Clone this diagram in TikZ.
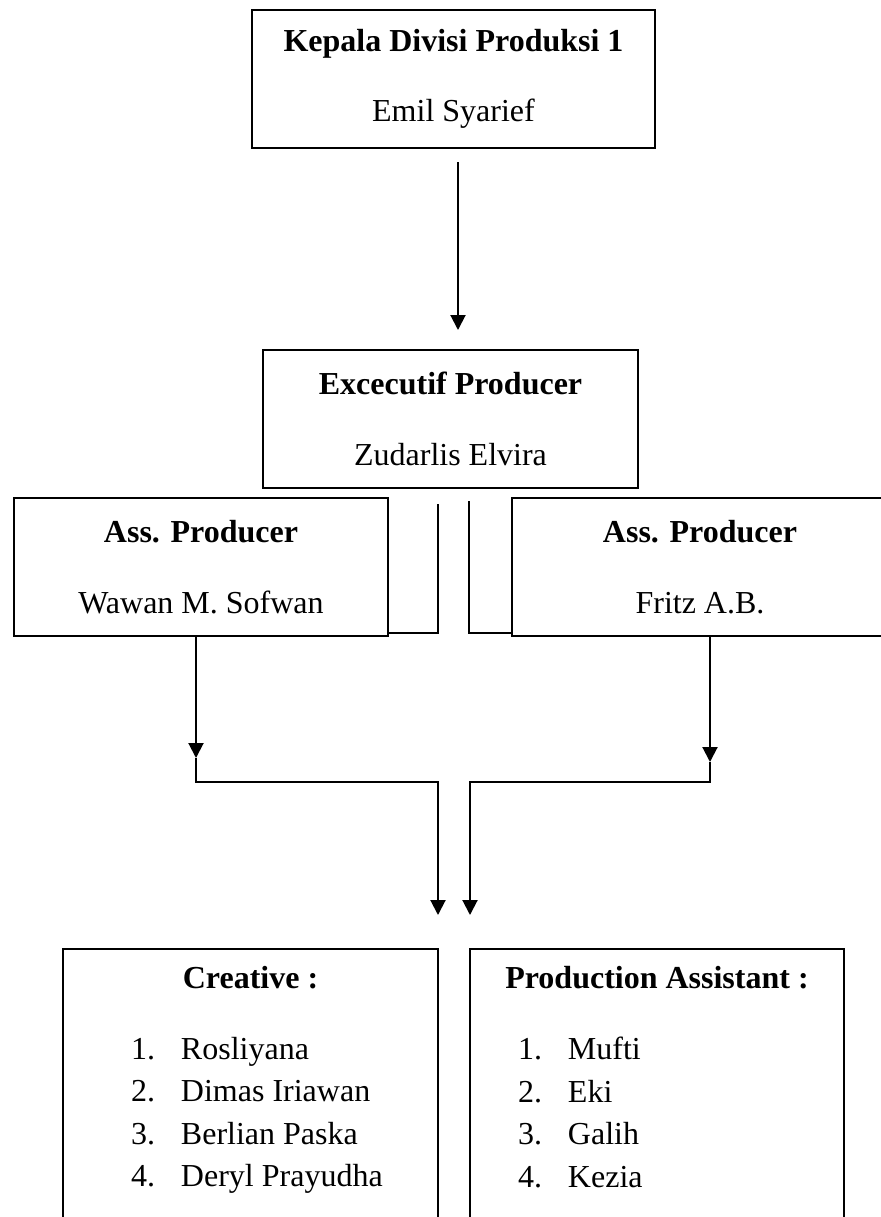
\documentclass[tikz,border=0pt]{standalone}
\usepackage{fontspec}
\setmainfont{Liberation Serif}
\usetikzlibrary{arrows.meta}
\newcommand{\jabatan}[2]{\textbf{#1}\\[14pt]#2}
\newcommand{\butir}[2]{\makebox[25pt][l]{#1}#2}

\begin{document}
\begin{tikzpicture}[x=0.5pt, y=-0.5pt, >={Triangle[width=7.5pt,length=7.5pt]}, line width=1pt,
    every node/.style={font=\fontsize{16}{21.25}\selectfont},
    kotak/.style={draw, line width=0.9pt, align=center, minimum height=69pt, inner sep=0pt}]
    \useasboundingbox (0,0) rectangle (881,1217);
    \node [kotak, minimum width=201.5pt] (KD) at (453.5, 79) {\jabatan{Kepala Divisi Produksi 1}{Emil Syarief}};
    \node [kotak, minimum width=187.5pt] (EP) at (450.5, 419) {\jabatan{Excecutif Producer}{Zudarlis Elvira}};
    \node [kotak, minimum width=187pt] (AL) at (201, 567) {\jabatan{Ass. Producer}{Wawan M. Sofwan}};
    \node [kotak, minimum width=188pt] (AR) at (700, 567) {\jabatan{Ass. Producer}{Fritz A.B.}};
    \node [kotak, minimum width=187.5pt, minimum height=155.5pt] (CR) at (250.5, 1104.5) {};
    \node [kotak, minimum width=187pt, minimum height=155.5pt] (PA) at (657, 1104.5) {};
    \node [anchor=base] (CRjudul) at (250.5, 988) {\textbf{Creative :}};
    \node [anchor=base] (PAjudul) at (657, 988) {\textbf{Production Assistant :}};
    \node [anchor=north west, align=left, inner sep=0pt] (CRisi) at (130, 1036)
        {\butir{1.}{Rosliyana}\\\butir{2.}{Dimas Iriawan}\\\butir{3.}{Berlian Paska}\\\butir{4.}{Deryl Prayudha}};
    \node [anchor=north west, align=left, inner sep=0pt] (PAisi) at (517, 1036)
        {\butir{1.}{Mufti}\\\butir{2.}{Eki}\\\butir{3.}{Galih}\\\butir{4.}{Kezia}};
    % free ends of the connectors
    \coordinate (a1) at (458, 162);
    \coordinate (a2) at (458, 330);
    \coordinate (kl) at (438, 504);
    \coordinate (kr) at (469, 501);
    \coordinate (pl) at (196, 758);
    \coordinate (jl) at (438, 782);
    \coordinate (tl) at (438, 915);
    \coordinate (pr) at (710, 762);
    \coordinate (jr) at (470, 782);
    \coordinate (tr) at (470, 915);
    \draw [->] (a1) -- (a2);
    \draw (kl) |- ([yshift=2pt]AL.south east);
    \draw (kr) |- ([yshift=2pt]AR.south west);
    \draw [->] (AL.south -| pl) -- (pl);
    \draw [->] (pl) |- (jl) -- (tl);
    \draw [->] (AR.south -| pr) -- (pr);
    \draw [->] (pr) |- (jr) -- (tr);
\end{tikzpicture}
\end{document}
